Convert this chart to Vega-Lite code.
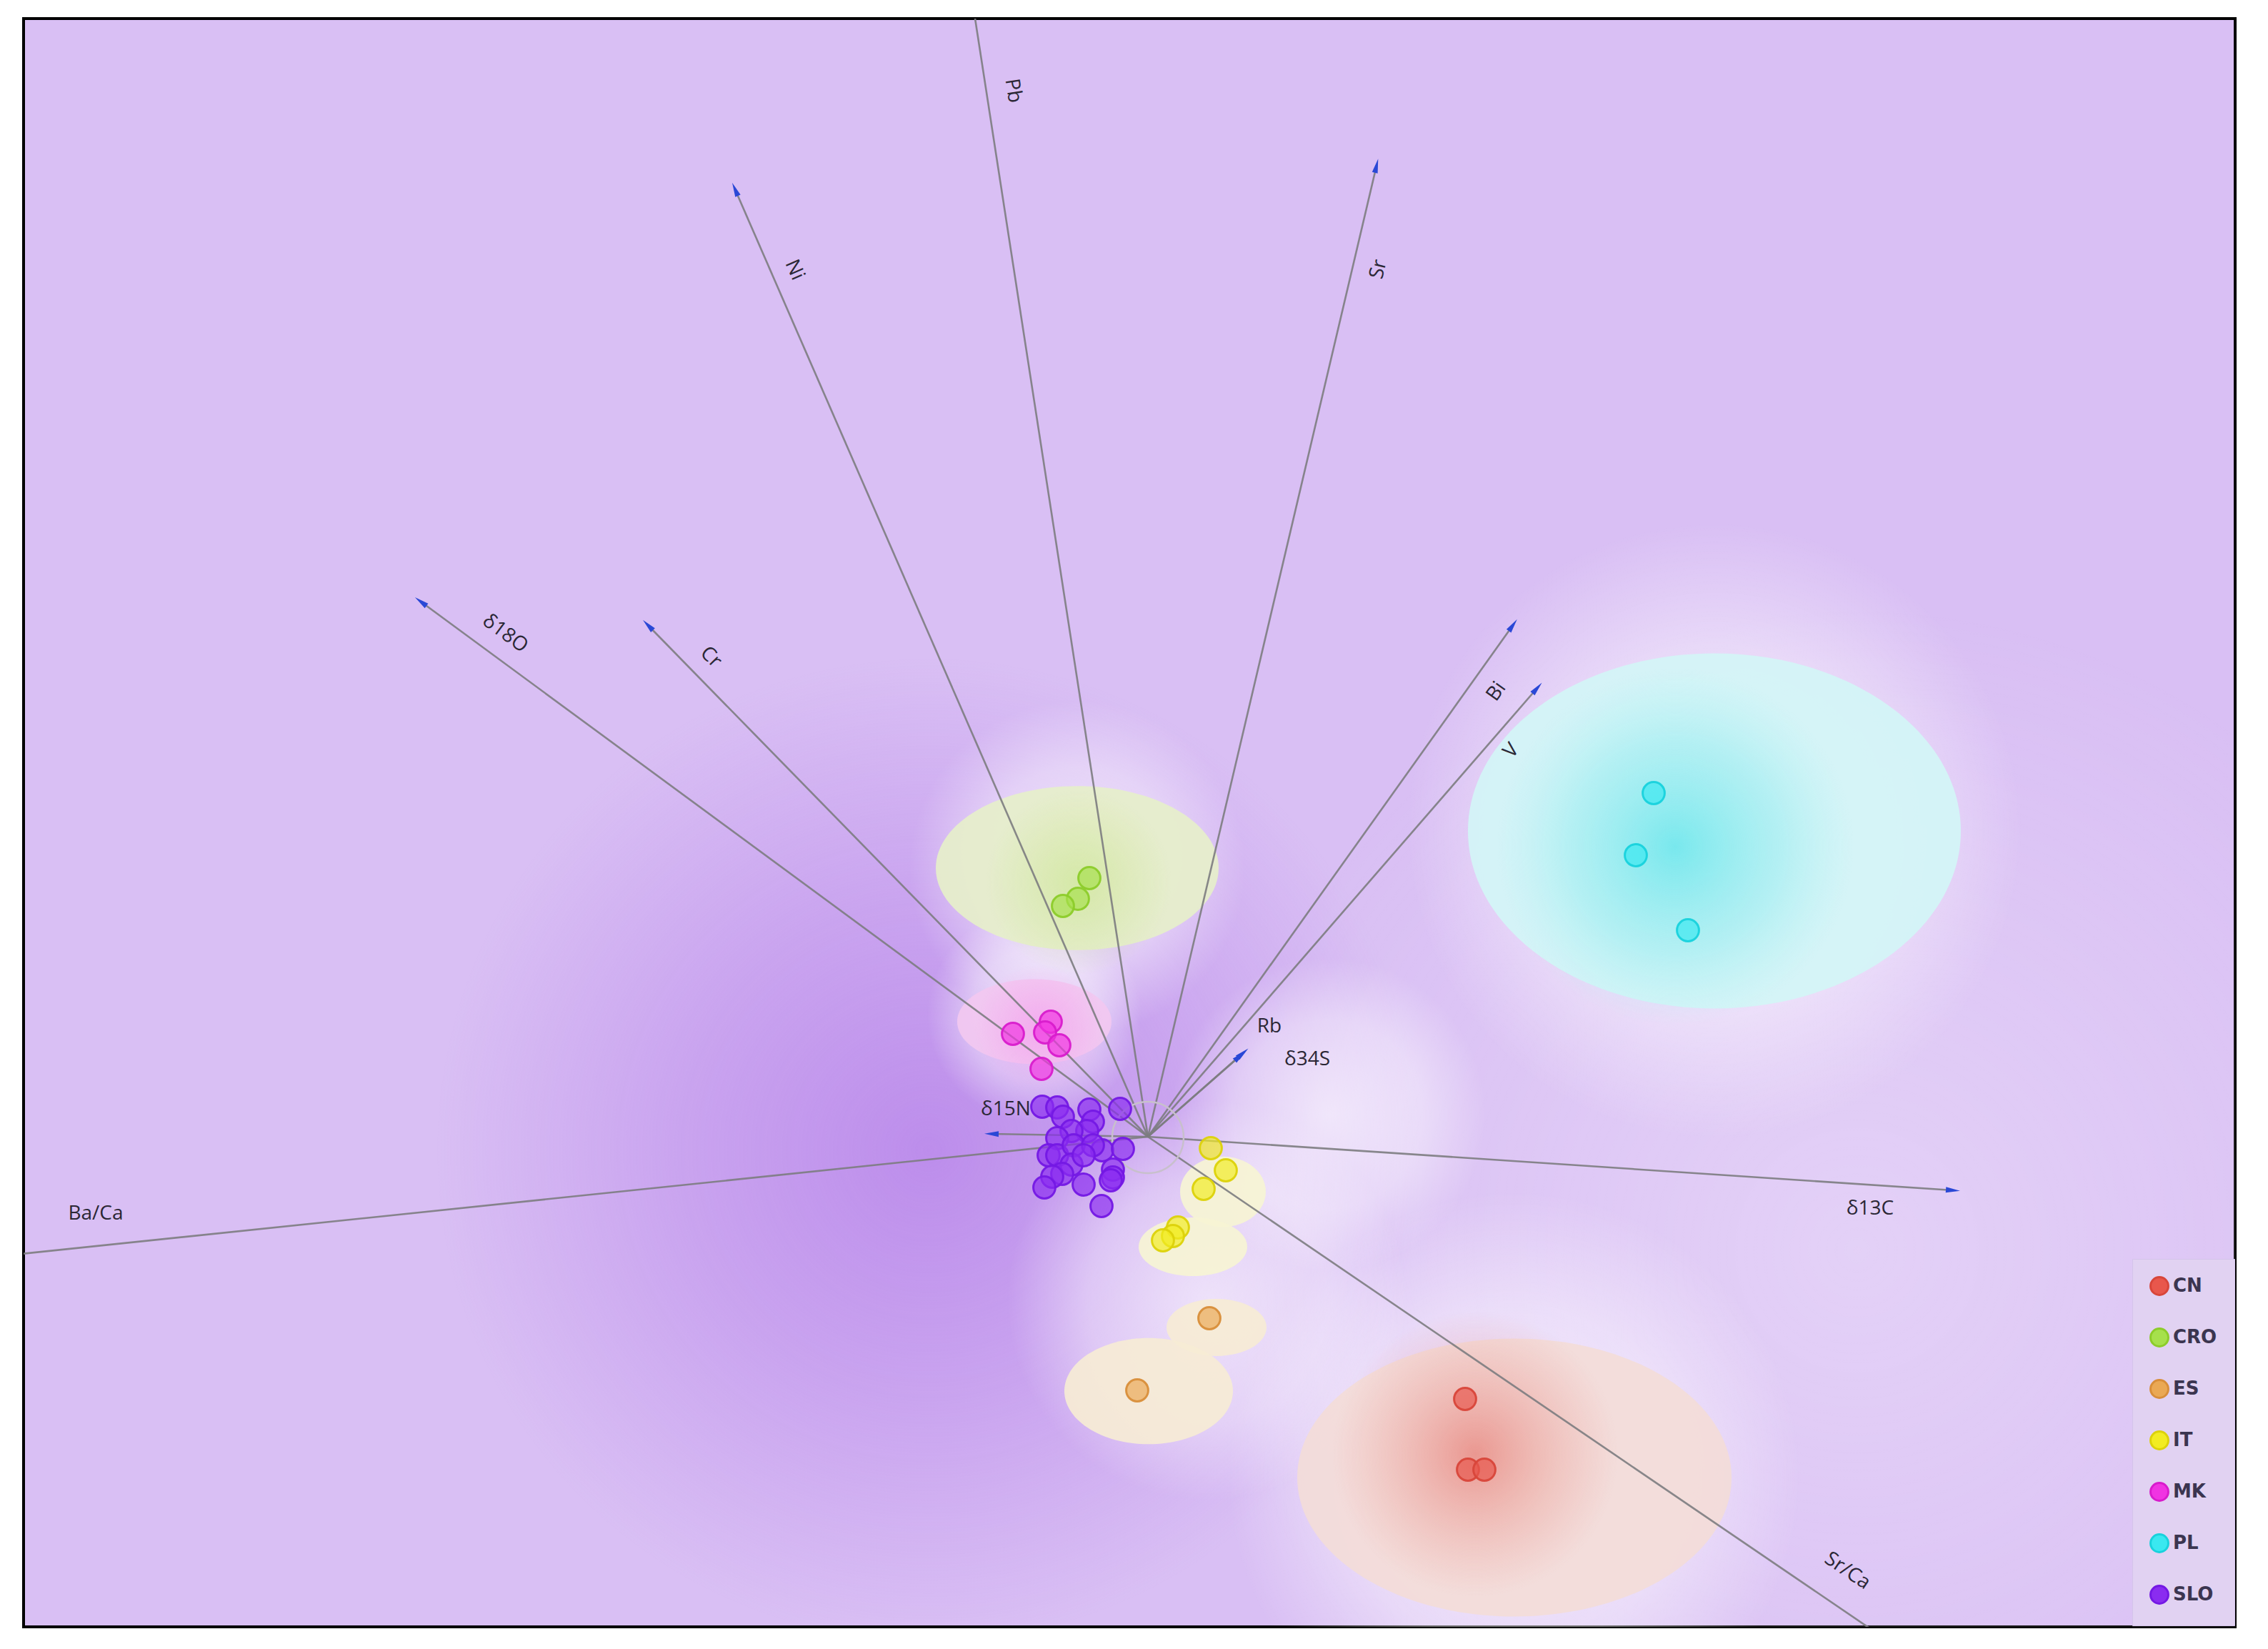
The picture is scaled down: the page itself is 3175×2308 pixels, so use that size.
{
  "$schema": "https://vega.github.io/schema/vega-lite/v6.json",
  "width": 3096,
  "height": 2251,
  "autosize": {"type": "none"},
  "padding": {"left": 33, "top": 26, "right": 46, "bottom": 31},
  "background": "#ffffff",
  "config": {"view": {"stroke": "#000000", "strokeWidth": 4, "fill": "#d9bff4"}},
  "datasets": {
    "purple": [{"x": 1300, "y": 1610, "r": 690}],
    "broad": [{"x": 2600, "y": 1750, "r": 900}],
    "halos": [
      {"x": 2400, "y": 1163, "r": 430},
      {"x": 2120, "y": 2068, "r": 400},
      {"x": 1690, "y": 1820, "r": 280},
      {"x": 1508, "y": 1215, "r": 235},
      {"x": 1448, "y": 1420, "r": 150},
      {"x": 1860, "y": 1560, "r": 220}
    ],
    "regions": [
      {"part": "PL", "x": 2400, "y": 1163, "r": 345},
      {"part": "CRO", "x": 1508, "y": 1215, "r": 198},
      {"part": "MK", "x": 1448, "y": 1430, "r": 108},
      {"part": "IT1", "x": 1712, "y": 1668, "r": 60},
      {"part": "IT2", "x": 1670, "y": 1745, "r": 76},
      {"part": "ES1", "x": 1703, "y": 1858, "r": 70},
      {"part": "ES2", "x": 1608, "y": 1947, "r": 118},
      {"part": "CN", "x": 2120, "y": 2068, "r": 304}
    ],
    "corePL": [{"x": 2345, "y": 1185, "r": 250}],
    "coreCN": [{"x": 2065, "y": 2035, "r": 200}],
    "coreCRO": [{"x": 1510, "y": 1235, "r": 130}],
    "coreMK": [{"x": 1455, "y": 1440, "r": 90}],
    "origin": [{"x": 1607, "y": 1592, "r": 50}],
    "arrows": [
      {"var": "Pb", "x0": 1607, "y0": 1591, "x": 1361, "y": 0, "dir": -98.8},
      {"var": "Ni", "x0": 1607, "y0": 1591, "x": 1029, "y": 265, "dir": -113.5},
      {"var": "Sr", "x0": 1607, "y0": 1591, "x": 1927, "y": 232, "dir": -76.75},
      {"var": "δ18O", "x0": 1607, "y0": 1591, "x": 589, "y": 842, "dir": -143.66},
      {"var": "Cr", "x0": 1607, "y0": 1591, "x": 907, "y": 875, "dir": -134.35},
      {"var": "Bi", "x0": 1607, "y0": 1591, "x": 2118, "y": 875, "dir": -54.5},
      {"var": "V", "x0": 1607, "y0": 1591, "x": 2152, "y": 963, "dir": -49.05},
      {"var": "Rb", "x0": 1607, "y0": 1591, "x": 1740, "y": 1474, "dir": -41.4},
      {"var": "δ34S", "x0": 1607, "y0": 1591, "x": 1736, "y": 1478, "dir": -41.2},
      {"var": "δ15N", "x0": 1607, "y0": 1591, "x": 1388, "y": 1587, "dir": -178.9},
      {"var": "δ13C", "x0": 1607, "y0": 1591, "x": 2734, "y": 1666, "dir": 3.8},
      {"var": "Ba/Ca", "x0": 1607, "y0": 1591, "x": 0, "y": 1758, "dir": 174.1},
      {"var": "Sr/Ca", "x0": 1607, "y0": 1591, "x": 2660, "y": 2308, "dir": 34.2}
    ],
    "labels": [
      {"label": "Pb", "x": 1418, "y": 127, "ta": 81.2},
      {"label": "Ni", "x": 1112, "y": 378, "ta": 66.5},
      {"label": "Sr", "x": 1930, "y": 377, "ta": -76.75},
      {"label": "δ18O", "x": 707, "y": 887, "ta": 36.3},
      {"label": "Cr", "x": 995, "y": 920, "ta": 45.6},
      {"label": "Bi", "x": 2095, "y": 968, "ta": -54.5},
      {"label": "V", "x": 2116, "y": 1051, "ta": -49},
      {"label": "Rb", "x": 1777, "y": 1437, "ta": 0},
      {"label": "δ34S", "x": 1830, "y": 1483, "ta": 0},
      {"label": "δ15N", "x": 1408, "y": 1553, "ta": 0},
      {"label": "δ13C", "x": 2618, "y": 1692, "ta": 0},
      {"label": "Ba/Ca", "x": 134, "y": 1699, "ta": 0},
      {"label": "Sr/Ca", "x": 2586, "y": 2199, "ta": 34.2}
    ],
    "points": [
      {"country": "CN", "x": 2051, "y": 1958},
      {"country": "CN", "x": 2055, "y": 2057},
      {"country": "CN", "x": 2078, "y": 2057},
      {"country": "CRO", "x": 1525, "y": 1229},
      {"country": "CRO", "x": 1509, "y": 1258},
      {"country": "CRO", "x": 1488, "y": 1268},
      {"country": "ES", "x": 1693, "y": 1845},
      {"country": "ES", "x": 1592, "y": 1946},
      {"country": "IT", "x": 1695, "y": 1607},
      {"country": "IT", "x": 1716, "y": 1638},
      {"country": "IT", "x": 1685, "y": 1664},
      {"country": "IT", "x": 1649, "y": 1718},
      {"country": "IT", "x": 1642, "y": 1730},
      {"country": "IT", "x": 1628, "y": 1736},
      {"country": "MK", "x": 1418, "y": 1447},
      {"country": "MK", "x": 1471, "y": 1430},
      {"country": "MK", "x": 1463, "y": 1445},
      {"country": "MK", "x": 1483, "y": 1463},
      {"country": "MK", "x": 1458, "y": 1496},
      {"country": "PL", "x": 2315, "y": 1110},
      {"country": "PL", "x": 2290, "y": 1197},
      {"country": "PL", "x": 2363, "y": 1302},
      {"country": "SLO", "x": 1459, "y": 1549},
      {"country": "SLO", "x": 1480, "y": 1550},
      {"country": "SLO", "x": 1488, "y": 1563},
      {"country": "SLO", "x": 1525, "y": 1553},
      {"country": "SLO", "x": 1530, "y": 1570},
      {"country": "SLO", "x": 1522, "y": 1583},
      {"country": "SLO", "x": 1568, "y": 1552},
      {"country": "SLO", "x": 1500, "y": 1583},
      {"country": "SLO", "x": 1480, "y": 1593},
      {"country": "SLO", "x": 1468, "y": 1617},
      {"country": "SLO", "x": 1480, "y": 1617},
      {"country": "SLO", "x": 1503, "y": 1603},
      {"country": "SLO", "x": 1500, "y": 1630},
      {"country": "SLO", "x": 1543, "y": 1610},
      {"country": "SLO", "x": 1572, "y": 1608},
      {"country": "SLO", "x": 1487, "y": 1643},
      {"country": "SLO", "x": 1473, "y": 1647},
      {"country": "SLO", "x": 1462, "y": 1662},
      {"country": "SLO", "x": 1517, "y": 1658},
      {"country": "SLO", "x": 1558, "y": 1637},
      {"country": "SLO", "x": 1558, "y": 1648},
      {"country": "SLO", "x": 1555, "y": 1652},
      {"country": "SLO", "x": 1542, "y": 1688},
      {"country": "SLO", "x": 1530, "y": 1603},
      {"country": "SLO", "x": 1517, "y": 1617}
    ]
  },
  "layer": [
    {
      "data": {"name": "purple"},
      "mark": {"type": "point", "shape": "circle", "filled": true, "opacity": 1, "clip": true, "strokeWidth": 0,
        "fill": {"gradient": "radial", "stops": [
          {"offset": 0, "color": "rgba(165,100,228,0.55)"},
          {"offset": 0.5, "color": "rgba(165,100,228,0.3)"},
          {"offset": 1, "color": "rgba(165,100,228,0)"}]}},
      "encoding": {
        "x": {"field": "x", "type": "quantitative", "scale": {"domain": [33, 3129], "nice": false, "zero": false}, "axis": null},
        "y": {"field": "y", "type": "quantitative", "scale": {"domain": [26, 2277], "nice": false, "zero": false, "reverse": true}, "axis": null},
        "size": {"field": "r", "type": "quantitative", "scale": {"type": "pow", "exponent": 2, "domain": [0, 1000], "range": [0, 4000000]}, "legend": null}
      }
    },
    {
      "data": {"name": "broad"},
      "mark": {"type": "point", "shape": "circle", "filled": true, "opacity": 1, "clip": true, "strokeWidth": 0,
        "fill": {"gradient": "radial", "stops": [
          {"offset": 0, "color": "rgba(255,255,255,0.28)"},
          {"offset": 1, "color": "rgba(255,255,255,0)"}]}},
      "encoding": {
        "x": {"field": "x", "type": "quantitative"},
        "y": {"field": "y", "type": "quantitative"},
        "size": {"field": "r", "type": "quantitative", "scale": {"type": "pow", "exponent": 2, "domain": [0, 1000], "range": [0, 4000000]}, "legend": null}
      }
    },
    {
      "data": {"name": "halos"},
      "mark": {"type": "point", "shape": "circle", "filled": true, "opacity": 1, "clip": true, "strokeWidth": 0,
        "fill": {"gradient": "radial", "stops": [
          {"offset": 0, "color": "rgba(255,255,255,0.65)"},
          {"offset": 0.6, "color": "rgba(255,255,255,0.4)"},
          {"offset": 1, "color": "rgba(255,255,255,0)"}]}},
      "encoding": {
        "x": {"field": "x", "type": "quantitative"},
        "y": {"field": "y", "type": "quantitative"},
        "size": {"field": "r", "type": "quantitative", "scale": {"type": "pow", "exponent": 2, "domain": [0, 1000], "range": [0, 4000000]}, "legend": null}
      }
    },
    {
      "data": {"name": "regions"},
      "mark": {"type": "point", "filled": true, "opacity": 0.92, "strokeWidth": 0},
      "encoding": {
        "x": {"field": "x", "type": "quantitative"},
        "y": {"field": "y", "type": "quantitative"},
        "size": {"field": "r", "type": "quantitative", "scale": {"type": "pow", "exponent": 2, "domain": [0, 1000], "range": [0, 4000000]}, "legend": null},
        "shape": {"field": "part", "type": "nominal", "legend": null, "scale": {
          "domain": ["PL", "CRO", "MK", "IT1", "IT2", "ES1", "ES2", "CN"],
          "range": [
            "M 1 0 C 1 0.397 0.552 0.72 0 0.72 C -0.552 0.72 -1 0.397 -1 0 C -1 -0.397 -0.552 -0.72 0 -0.72 C 0.552 -0.72 1 -0.397 1 0 Z",
            "M 1 0 C 1 0.32 0.552 0.58 0 0.58 C -0.552 0.58 -1 0.32 -1 0 C -1 -0.32 -0.552 -0.58 0 -0.58 C 0.552 -0.58 1 -0.32 1 0 Z",
            "M 1 0 C 1 0.304 0.552 0.55 0 0.55 C -0.552 0.55 -1 0.304 -1 0 C -1 -0.304 -0.552 -0.55 0 -0.55 C 0.552 -0.55 1 -0.304 1 0 Z",
            "M 1 0 C 1 0.45 0.552 0.82 0 0.82 C -0.552 0.82 -1 0.45 -1 0 C -1 -0.45 -0.552 -0.82 0 -0.82 C 0.552 -0.82 1 -0.45 1 0 Z",
            "M 1 0 C 1 0.3 0.552 0.54 0 0.54 C -0.552 0.54 -1 0.3 -1 0 C -1 -0.3 -0.552 -0.54 0 -0.54 C 0.552 -0.54 1 -0.3 1 0 Z",
            "M 1 0 C 1 0.315 0.552 0.57 0 0.57 C -0.552 0.57 -1 0.315 -1 0 C -1 -0.315 -0.552 -0.57 0 -0.57 C 0.552 -0.57 1 -0.315 1 0 Z",
            "M 1 0 C 1 0.348 0.552 0.63 0 0.63 C -0.552 0.63 -1 0.348 -1 0 C -1 -0.348 -0.552 -0.63 0 -0.63 C 0.552 -0.63 1 -0.348 1 0 Z",
            "M 1 0 C 1 0.353 0.552 0.64 0 0.64 C -0.552 0.64 -1 0.353 -1 0 C -1 -0.353 -0.552 -0.64 0 -0.64 C 0.552 -0.64 1 -0.353 1 0 Z"
          ]}},
        "fill": {"field": "part", "type": "nominal", "legend": null, "scale": {
          "domain": ["PL", "CRO", "MK", "IT1", "IT2", "ES1", "ES2", "CN"],
          "range": ["#d3f5f6", "#e6efca", "#f2c8f0", "#f6f4d4", "#f6f4d4", "#f6ecd5", "#f6ecd5", "#f3dcd8"]}}
      }
    },
    {
      "data": {"name": "corePL"},
      "mark": {"type": "point", "shape": "circle", "filled": true, "opacity": 1, "strokeWidth": 0,
        "fill": {"gradient": "radial", "stops": [
          {"offset": 0, "color": "rgba(90,228,234,0.75)"},
          {"offset": 0.6, "color": "rgba(120,232,236,0.35)"},
          {"offset": 1, "color": "rgba(150,240,240,0)"}]}},
      "encoding": {
        "x": {"field": "x", "type": "quantitative"},
        "y": {"field": "y", "type": "quantitative"},
        "size": {"field": "r", "type": "quantitative", "scale": {"type": "pow", "exponent": 2, "domain": [0, 1000], "range": [0, 4000000]}, "legend": null}
      }
    },
    {
      "data": {"name": "coreCN"},
      "mark": {"type": "point", "shape": "circle", "filled": true, "opacity": 1, "strokeWidth": 0,
        "fill": {"gradient": "radial", "stops": [
          {"offset": 0, "color": "rgba(228,105,95,0.6)"},
          {"offset": 0.6, "color": "rgba(232,130,120,0.25)"},
          {"offset": 1, "color": "rgba(235,140,130,0)"}]}},
      "encoding": {
        "x": {"field": "x", "type": "quantitative"},
        "y": {"field": "y", "type": "quantitative"},
        "size": {"field": "r", "type": "quantitative", "scale": {"type": "pow", "exponent": 2, "domain": [0, 1000], "range": [0, 4000000]}, "legend": null}
      }
    },
    {
      "data": {"name": "coreCRO"},
      "mark": {"type": "point", "shape": "circle", "filled": true, "opacity": 1, "strokeWidth": 0,
        "fill": {"gradient": "radial", "stops": [
          {"offset": 0, "color": "rgba(190,225,120,0.45)"},
          {"offset": 1, "color": "rgba(190,225,120,0)"}]}},
      "encoding": {
        "x": {"field": "x", "type": "quantitative"},
        "y": {"field": "y", "type": "quantitative"},
        "size": {"field": "r", "type": "quantitative", "scale": {"type": "pow", "exponent": 2, "domain": [0, 1000], "range": [0, 4000000]}, "legend": null}
      }
    },
    {
      "data": {"name": "coreMK"},
      "mark": {"type": "point", "shape": "circle", "filled": true, "opacity": 1, "strokeWidth": 0,
        "fill": {"gradient": "radial", "stops": [
          {"offset": 0, "color": "rgba(245,140,235,0.5)"},
          {"offset": 1, "color": "rgba(245,140,235,0)"}]}},
      "encoding": {
        "x": {"field": "x", "type": "quantitative"},
        "y": {"field": "y", "type": "quantitative"},
        "size": {"field": "r", "type": "quantitative", "scale": {"type": "pow", "exponent": 2, "domain": [0, 1000], "range": [0, 4000000]}, "legend": null}
      }
    },
    {
      "data": {"name": "arrows"},
      "mark": {"type": "rule", "color": "#7c7c80", "strokeWidth": 2.6, "opacity": 0.9, "clip": true},
      "encoding": {
        "x": {"field": "x0", "type": "quantitative"},
        "y": {"field": "y0", "type": "quantitative"},
        "x2": {"field": "x"},
        "y2": {"field": "y"}
      }
    },
    {
      "data": {"name": "origin"},
      "mark": {"type": "point", "shape": "circle", "filled": false, "opacity": 1, "stroke": "#c8c0cc", "strokeWidth": 2.5},
      "encoding": {
        "x": {"field": "x", "type": "quantitative"},
        "y": {"field": "y", "type": "quantitative"},
        "size": {"field": "r", "type": "quantitative", "scale": {"type": "pow", "exponent": 2, "domain": [0, 1000], "range": [0, 4000000]}, "legend": null}
      }
    },
    {
      "data": {"name": "arrows"},
      "mark": {"type": "point", "shape": "M 1 0 L -1 -0.4 L -1 0.4 Z", "filled": true, "opacity": 1, "fill": "#2a48d6", "strokeWidth": 0, "size": 400, "clip": true},
      "encoding": {
        "x": {"field": "x", "type": "quantitative"},
        "y": {"field": "y", "type": "quantitative"},
        "angle": {"field": "dir", "type": "quantitative", "scale": null}
      }
    },
    {
      "data": {"name": "points"},
      "mark": {"type": "point", "shape": "circle", "filled": true, "opacity": 1, "size": 950, "fillOpacity": 0.68, "strokeOpacity": 0.95, "strokeWidth": 3},
      "encoding": {
        "x": {"field": "x", "type": "quantitative"},
        "y": {"field": "y", "type": "quantitative"},
        "color": {"field": "country", "type": "nominal",
          "scale": {"domain": ["CN", "CRO", "ES", "IT", "MK", "PL", "SLO"],
            "range": ["#e8574c", "#a6e04c", "#eaa854", "#f2ec22", "#f034e2", "#3ae8f0", "#8a2cf0"]},
          "legend": {"orient": "none", "legendX": 2952, "legendY": 1736, "title": null,
            "fillColor": "#e1d2f2", "strokeColor": "#d4c4ea", "padding": 24,
            "symbolSize": 620, "symbolStrokeWidth": 3, "labelFontSize": 26,
            "labelFont": "Liberation Sans Narrow, DejaVu Sans", "labelFontWeight": "bold",
            "labelColor": "#3b3550", "rowPadding": 34, "labelOffset": 5}},
        "stroke": {"field": "country", "type": "nominal",
          "scale": {"domain": ["CN", "CRO", "ES", "IT", "MK", "PL", "SLO"],
            "range": ["#d8463a", "#8ccc2a", "#d88e3a", "#dcd20a", "#d81ccc", "#18d2dc", "#7418e4"]}}
      }
    },
    {
      "data": {"name": "labels"},
      "mark": {"type": "text", "font": "Open Sans", "fontSize": 28, "fill": "#2b2735", "align": "center", "baseline": "middle"},
      "encoding": {
        "x": {"field": "x", "type": "quantitative"},
        "y": {"field": "y", "type": "quantitative"},
        "text": {"field": "label", "type": "nominal"},
        "angle": {"field": "ta", "type": "quantitative", "scale": null}
      }
    }
  ]
}
